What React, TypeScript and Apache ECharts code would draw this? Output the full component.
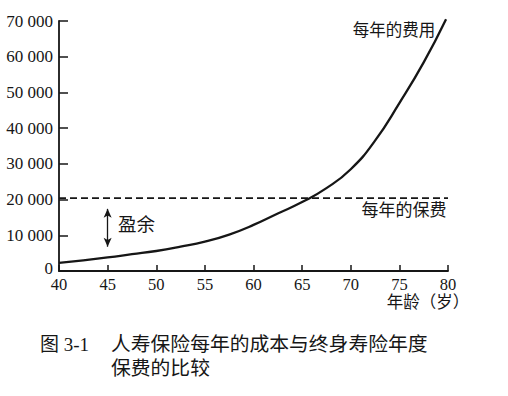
import React, { useEffect, useRef } from "react";
import * as echarts from "echarts";

const ages = [40, 42.5, 45, 47.5, 50, 52.5, 55, 57.5, 60, 62.5, 65, 67.5, 70, 72.5, 75, 77.5, 79.8];
const annualCost = [2300, 3000, 3800, 4700, 5600, 6800, 8200, 10200, 12900, 16100, 19300, 23200, 28500, 36500, 47000, 58400, 70500];
const premiumAges = [40, 80];
const premium = [20400, 20400];
const surplusArrow = [[45, 17400], [45, 6800]];
const xTicks = { min: 40, max: 80, interval: 5 };
const yTicks = { min: 0, max: 70000, interval: 10000 };

const FONT = '"Liberation Serif", "DejaVu Serif", "Noto Sans CJK SC", serif';
const INK = "#161616";

export default function App() {
  const ref = useRef<HTMLDivElement>(null);
  useEffect(() => {
    if (!ref.current) return;
    const chart = echarts.init(ref.current, null, { renderer: "svg" });
    chart.setOption({
      animation: false,
      backgroundColor: "#ffffff",
      grid: { left: 59, right: 60, top: 21, bottom: 125, containLabel: false },
      xAxis: {
        type: "value",
        min: xTicks.min,
        max: xTicks.max,
        interval: xTicks.interval,
        axisLine: { lineStyle: { color: INK, width: 1.8 } },
        axisTick: { inside: true, length: 6, lineStyle: { color: INK, width: 1.5 } },
        axisLabel: { color: INK, fontFamily: FONT, fontSize: 16.5, margin: 5 },
        splitLine: { show: false },
      },
      yAxis: {
        type: "value",
        min: yTicks.min,
        max: yTicks.max,
        interval: yTicks.interval,
        axisLine: { show: true, lineStyle: { color: INK, width: 1.8 } },
        axisTick: { show: true, inside: true, length: 9, lineStyle: { color: INK, width: 1.5 } },
        axisLabel: {
          color: INK,
          fontFamily: FONT,
          fontSize: 17,
          margin: 6,
          formatter: (v: number) => (v === 0 ? "{z|0}" : `${v / 1000} 000`),
          rich: { z: { fontFamily: FONT, fontSize: 17, color: INK, padding: [0, 0, 6, 0] } },
        },
        splitLine: { show: false },
      },
      series: [
        {
          type: "line",
          data: ages.map((a, i) => [a, annualCost[i]]),
          smooth: 0.5,
          showSymbol: false,
          lineStyle: { color: INK, width: 2.3 },
          clip: false,
        },
        {
          type: "line",
          data: premiumAges.map((a, i) => [a, premium[i]]),
          showSymbol: false,
          lineStyle: { color: INK, width: 1.6, type: [7, 4] },
          markLine: {
            silent: true,
            symbol: ["arrow", "arrow"],
            symbolSize: [6, 9],
            label: { show: false },
            lineStyle: { color: INK, width: 1.3, type: "solid" },
            data: [[{ coord: surplusArrow[0] }, { coord: surplusArrow[1] }]],
          },
        },
      ],
      graphic: [
        {
          type: "text",
          x: 394,
          y: 30,
          style: { text: "每年的费用", font: `16.5px ${FONT}`, fill: INK, align: "center", verticalAlign: "middle" },
        },
        {
          type: "text",
          x: 404,
          y: 210,
          style: { text: "每年的保费", font: `17px ${FONT}`, fill: INK, align: "center", verticalAlign: "middle" },
        },
        {
          type: "text",
          x: 118,
          y: 225,
          style: { text: "盈余", font: `18.5px ${FONT}`, fill: INK, align: "left", verticalAlign: "middle" },
        },
        {
          type: "text",
          x: 428,
          y: 302,
          style: { text: "年龄（岁）", font: `16.5px ${FONT}`, fill: INK, align: "center", verticalAlign: "middle" },
        },
        {
          type: "text",
          x: 40,
          y: 344,
          style: { text: "图 3-1", font: `19px ${FONT}`, fill: INK, align: "left", verticalAlign: "middle" },
        },
        {
          type: "text",
          x: 111,
          y: 344,
          style: { text: "人寿保险每年的成本与终身寿险年度", font: `19.8px ${FONT}`, fill: INK, align: "left", verticalAlign: "middle" },
        },
        {
          type: "text",
          x: 111,
          y: 368,
          style: { text: "保费的比较", font: `19.8px ${FONT}`, fill: INK, align: "left", verticalAlign: "middle" },
        },
      ],
    });
    return () => chart.dispose();
  }, []);
  return (
    <div
      ref={ref}
      style={{ position: "absolute", left: 0, top: 0, width: 508, height: 396, background: "#fff" }}
    />
  );
}
